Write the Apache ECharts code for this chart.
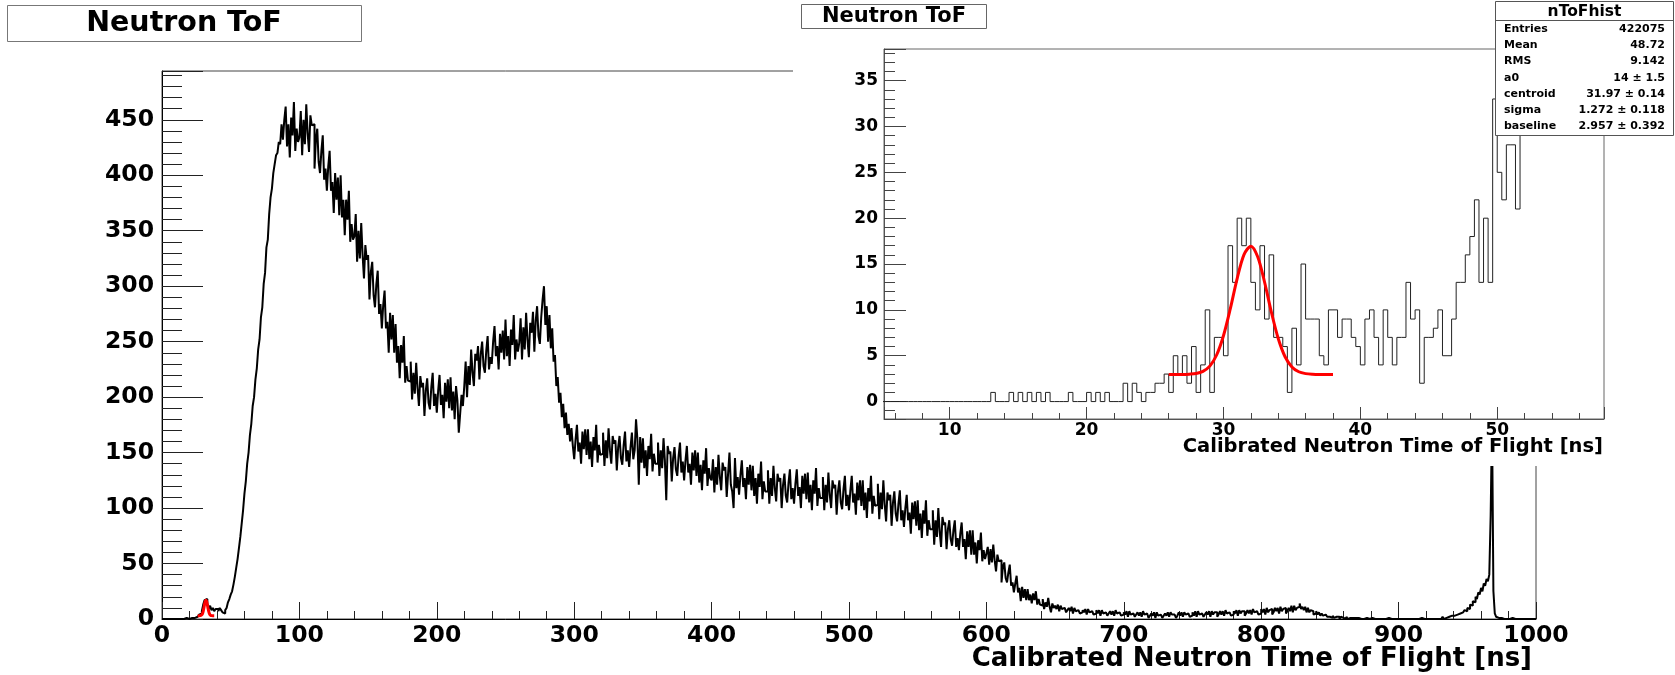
<!DOCTYPE html>
<html>
<head>
<meta charset="utf-8">
<title>Neutron ToF</title>
<script src="https://cdn.jsdelivr.net/npm/echarts@6/dist/echarts.min.js"></script>
<style>
  html, body { margin: 0; padding: 0; background: #fff; }
  #chart { width: 1675px; height: 675px; }
</style>
</head>
<body>
<div id="chart"></div>
<script>
// main histogram, 1 ns bins from 0 ns (heights as drawn)
var mainStart = 0;
var mainBinWidth = 1;
var mainCounts = [
  0,0,0,0,0,0,0,0,0,0,
  0,0,0,0,1,0,0,1,0,0,
  0,1,0,1,2,2,3,4,5,7,
  13,17,18,14,9,12,8,10,7,9,
  9,7,10,8,6,5,8,10,15,18,
  22,25,31,38,46,54,64,74,86,98,
  113,124,140,150,166,176,192,200,216,226,
  243,252,272,281,302,312,335,342,365,380,
  388,402,410,418,420,430,428,446,432,450,
  462,426,446,416,452,436,466,422,442,430,
  // 100
  434,458,418,450,428,464,438,421,454,445,
  446,406,432,442,412,402,422,436,396,406,
  386,408,422,386,394,366,402,378,398,364,
  400,362,378,346,378,360,386,340,356,342,
  345,365,322,350,325,357,328,307,337,324,
  328,288,313,322,292,281,302,314,275,284,
  262,283,296,262,268,240,276,252,274,240,
  266,231,246,217,247,231,255,213,228,215,
  214,232,198,222,203,231,208,192,219,209,
  213,183,206,217,195,189,209,222,192,203,
  // 200
  186,206,220,193,202,181,213,196,216,190,
  218,188,205,180,210,197,168,185,202,192,
  210,232,200,228,211,243,222,210,239,233,
  246,216,239,250,228,222,242,255,225,236,
  230,250,264,237,246,225,257,240,260,234,
  270,237,255,228,261,247,274,234,252,241,
  249,271,234,263,243,276,252,236,267,258,
  277,241,269,282,255,248,272,288,300,265,
  282,250,274,244,262,232,238,210,218,195,
  204,182,194,172,186,166,176,160,172,156,
  // 300
  144,162,175,151,159,140,169,153,171,148,
  171,144,160,137,164,152,175,141,157,148,
  149,168,138,161,145,172,152,140,165,158,
  161,134,155,165,145,139,157,169,142,152,
  137,155,168,144,152,180,162,121,164,141,
  163,136,152,129,156,144,167,133,149,140,
  140,159,129,152,136,163,143,107,156,149,
  151,124,145,155,135,129,147,159,132,142,
  125,143,156,132,140,121,150,134,152,129,
  150,123,139,116,143,131,154,120,136,127,
  // 400
  125,144,114,137,121,148,128,116,141,134,
  137,110,131,150,121,115,100,145,118,128,
  112,130,143,119,127,108,137,121,139,116,
  138,111,127,104,131,119,142,108,124,115,
  115,134,104,127,111,138,118,106,131,124,
  127,100,121,131,111,105,123,135,108,118,
  104,122,135,111,119,100,129,113,131,108,
  132,105,121,98,125,113,136,102,118,109,
  109,128,98,121,105,132,112,100,125,118,
  121,94,115,125,105,99,117,129,102,112,
  // 500
  98,116,129,105,113,94,123,107,125,102,
  125,98,114,91,118,106,129,95,111,102,
  103,122,90,114,99,125,103,88,114,107,
  112,84,105,115,95,88,104,116,89,98,
  83,100,112,89,96,77,105,90,106,84,
  107,80,95,73,98,86,107,75,89,81,
  81,98,67,89,74,100,79,65,92,85,
  87,63,81,89,72,66,80,89,65,73,
  62,77,87,65,72,54,79,65,80,58,
  80,58,69,50,71,62,78,52,62,54,
  // 600
  59,65,49,63,51,67,53,43,58,52,
  53,33,47,51,37,33,42,49,30,33,
  24,32,39,24,28,16,29,19,27,17,
  27,17,22,14,23,17,25,13,18,13,
  12,18,9,15,11,19,11,6,14,10,
  12,9,13,7,12,9,10,11,6,8,
  10,7,11,5,10,7,8,9,5,6,
  8,6,9,4,9,6,7,8,4,5,
  8,5,8,3,8,5,6,7,3,5,
  7,4,7,3,8,5,6,6,3,4,
  // 700
  6,4,7,2,7,4,5,6,2,4,
  6,3,6,2,7,4,5,5,1,3,
  5,3,6,1,6,3,4,5,1,3,
  5,3,6,2,6,4,4,5,1,3,
  6,3,6,2,6,4,5,6,2,3,
  6,3,7,2,7,4,5,6,2,4,
  6,4,7,2,7,4,6,6,2,4,
  7,4,7,3,8,5,6,7,3,4,
  7,5,8,3,8,5,7,7,3,5,
  8,5,8,4,9,6,7,8,4,5,
  // 800
  9,6,9,4,10,6,8,9,4,6,
  10,7,10,5,11,7,9,10,5,7,
  10,7,12,6,12,8,10,11,14,9,
  11,8,11,6,10,6,8,7,4,5,
  7,4,6,3,5,3,4,3,2,2,
  3,1,3,1,2,1,2,0,2,1,
  1,0,2,0,1,0,1,0,1,0,
  1,0,0,1,0,0,1,0,0,0,
  1,0,0,0,0,1,0,0,0,0,
  0,0,1,0,0,0,0,0,0,0,
  // 900
  0,0,0,1,0,0,0,0,0,0,
  0,0,0,0,0,0,1,0,0,0,
  0,0,0,0,0,1,0,0,0,1,
  0,1,2,0,1,1,2,1,3,2,
  3,2,4,3,5,4,6,5,8,7,
  10,9,13,12,16,15,20,18,24,22,
  28,25,32,30,36,34,40,93,180,25,
  5,2,1,0,1,0,0,1,0,0,
  0,0,1,0,0,0,0,0,0,0,
  0,0,0,0,0,0,0,0,0,0
];

// inset: same spectrum zoomed, 1/3 ns bins from 5 ns
var insetStart = 5;
var insetBinWidth = 1 / 3;
var insetCounts = [
  0,0,0, 0,0,0, 0,0,0, 0,0,0, 0,0,0, 0,0,0, 0,0,0, 0,0,0,
  1,0,0,    // 13
  0,1,0,
  1,0,1,
  0,1,0,
  1,0,0,
  0,0,1,
  0,0,0,
  1,0,1,    // 20
  0,1,0,
  0,0,2,
  0,2,1,
  0,1,1,
  2,2,3,    // 25
  1,5,3,
  5,2,6,
  1,4,10,
  1,7,7,
  5,17,13,  // 30
  20,17,20,
  13,10,17,
  9,16,7,
  7,6,1,
  8,4,15,   // 35
  9,9,9,
  5,4,10,
  10,7,9,
  9,7,6,
  4,9,10,   // 40
  7,4,10,
  7,4,7,
  7,13,9,
  10,2,7,
  7,8,10,   // 45
  5,5,9,
  13,13,16,
  18,22,13,
  20,13,33,
  25,22,28, // 50
  28,21,40,
  44,46,48,
  50,52,55,
  58,60,62,
  64,68,70, // 55
  74,78,82,
  86,90,94
];

// red fit curve (gaussian + baseline)
var fitTimes = [26,26.5,27,27.5,28,28.5,29,29.5,30,30.5,31,31.5,32,32.5,33,33.5,34,34.5,35,35.5,36,36.5,37,37.5,38];
var fitCounts = [2.96,2.96,2.96,2.99,3.06,3.30,3.87,5.08,7.18,10.13,13.42,16.03,16.95,15.79,13.04,9.75,6.88,4.89,3.78,3.25,3.05,2.98,2.96,2.96,2.96];

var mainXRange = [0, 1000];
var mainYRange = [0, 494];
var insetXRange = [5.2, 57.8];
var insetYRange = [-1.9, 38.45];

var statsTitle = 'nToFhist';
var statsLabels = ['Entries', 'Mean', 'RMS', 'a0', 'centroid', 'sigma', 'baseline'];
var statsValues = ['422075', '48.72', '9.142', '14 \u00b1 1.5', '31.97 \u00b1 0.14', '1.272 \u00b1 0.118', '2.957 \u00b1 0.392'];

var FONT = '"DejaVu Sans", sans-serif';

function histSteps(start, width, counts) {
  var pts = counts.map(function (c, i) { return [start + i * width, c]; });
  pts.push([start + counts.length * width, counts[counts.length - 1]]);
  return pts;
}
function pairs(xs, ys) {
  return xs.map(function (x, i) { return [x, ys[i]]; });
}
// plain numbers, no thousands separator (1000 not 1,000)
function plain(v) { return String(v); }

var statsRowY = [29, 45, 61, 78, 94, 110, 126.5];
var statsTexts = [];
statsLabels.forEach(function (lab, i) {
  statsTexts.push({ type: 'text', x: 1504, y: statsRowY[i], z: 32,
    style: { text: lab, font: 'bold 11px ' + FONT, fill: '#000', align: 'left', verticalAlign: 'middle' } });
  statsTexts.push({ type: 'text', x: 1665, y: statsRowY[i], z: 32,
    style: { text: statsValues[i], font: 'bold 11px ' + FONT, fill: '#000', align: 'right', verticalAlign: 'middle' } });
});

var chart = echarts.init(document.getElementById('chart'));
var option = {
  animation: false,
  backgroundColor: '#fff',
  grid: [
    { left: 162, top: 71, width: 1374, height: 548, show: true, borderColor: '#444', borderWidth: 1, z: 0 },
    { left: 884, top: 49, width: 720, height: 370, show: true, borderColor: '#666', borderWidth: 1, backgroundColor: '#fff', z: 10 }
  ],
  xAxis: [
    {
      type: 'value', gridIndex: 0, min: mainXRange[0], max: mainXRange[1], interval: 100,
      axisLine: { onZero: false, lineStyle: { color: '#000', width: 1 } },
      axisTick: { inside: true, length: 17, lineStyle: { color: '#222' } },
      minorTick: { show: true, splitNumber: 5, length: 8, lineStyle: { color: '#222' } },
      splitLine: { show: false },
      axisLabel: { margin: 5, formatter: plain, color: '#000', fontFamily: FONT, fontWeight: 'bold', fontSize: 23.5 }
    },
    {
      type: 'value', gridIndex: 1, min: insetXRange[0], max: insetXRange[1], splitNumber: 5, z: 10,
      axisLine: { onZero: false, lineStyle: { color: '#555', width: 1 } },
      axisTick: { inside: true, length: 12, lineStyle: { color: '#444' } },
      minorTick: { show: true, splitNumber: 5, length: 6, lineStyle: { color: '#444' } },
      splitLine: { show: false },
      axisLabel: { margin: 3, formatter: plain, showMinLabel: false, showMaxLabel: false, color: '#000', fontFamily: FONT, fontWeight: 'bold', fontSize: 17 }
    }
  ],
  yAxis: [
    {
      type: 'value', gridIndex: 0, min: mainYRange[0], max: mainYRange[1], interval: 50,
      axisLine: { onZero: false, lineStyle: { color: '#000', width: 1 } },
      axisTick: { inside: true, length: 41, lineStyle: { color: '#222' } },
      minorTick: { show: true, splitNumber: 5, length: 20, lineStyle: { color: '#222' } },
      splitLine: { show: false },
      axisLabel: { margin: 8, formatter: plain, showMaxLabel: false, color: '#000', fontFamily: FONT, fontWeight: 'bold', fontSize: 23.5 }
    },
    {
      type: 'value', gridIndex: 1, min: insetYRange[0], max: insetYRange[1], splitNumber: 8, z: 10,
      axisLine: { onZero: false, lineStyle: { color: '#555', width: 1 } },
      axisTick: { inside: true, length: 22, lineStyle: { color: '#444' } },
      minorTick: { show: true, splitNumber: 5, length: 11, lineStyle: { color: '#444' } },
      splitLine: { show: false },
      axisLabel: { margin: 6, formatter: plain, showMinLabel: false, showMaxLabel: false, color: '#000', fontFamily: FONT, fontWeight: 'bold', fontSize: 17 }
    }
  ],
  series: [
    {
      type: 'line', xAxisIndex: 0, yAxisIndex: 0, z: 2, silent: true,
      data: histSteps(mainStart, mainBinWidth, mainCounts),
      step: 'end', symbol: 'none', lineStyle: { color: '#000', width: 2 }
    },
    {
      type: 'line', xAxisIndex: 0, yAxisIndex: 0, z: 3, silent: true,
      data: pairs(fitTimes, fitCounts),
      smooth: 0.3, symbol: 'none', lineStyle: { color: '#ff0000', width: 3 }
    },
    {
      type: 'line', xAxisIndex: 1, yAxisIndex: 1, z: 12, silent: true,
      data: histSteps(insetStart, insetBinWidth, insetCounts),
      step: 'end', symbol: 'none', lineStyle: { color: '#222', width: 1 }
    },
    {
      type: 'line', xAxisIndex: 1, yAxisIndex: 1, z: 13, silent: true,
      data: pairs(fitTimes, fitCounts),
      smooth: 0.3, symbol: 'none', lineStyle: { color: '#ff0000', width: 3 }
    }
  ],
  graphic: [
    // white pad of the inset, hides the top-right of the main frame
    { type: 'rect', z: 5, silent: true, shape: { x: 793, y: 0, width: 882, height: 466 }, style: { fill: '#fff' } },
    // main title box
    { type: 'rect', z: 30, shape: { x: 7.5, y: 5.5, width: 354, height: 36 }, style: { fill: '#fff', stroke: '#777', lineWidth: 1 } },
    { type: 'text', z: 31, x: 184, y: 24, style: { text: 'Neutron ToF', font: 'bold 28.5px ' + FONT, fill: '#000', align: 'center', verticalAlign: 'middle' } },
    // inset title box
    { type: 'rect', z: 30, shape: { x: 801.5, y: 4.5, width: 185, height: 24 }, style: { fill: '#fff', stroke: '#666', lineWidth: 1 } },
    { type: 'text', z: 31, x: 894, y: 16.5, style: { text: 'Neutron ToF', font: 'bold 21px ' + FONT, fill: '#000', align: 'center', verticalAlign: 'middle' } },
    // axis titles
    { type: 'text', z: 31, x: 1532, y: 659, style: { text: 'Calibrated Neutron Time of Flight [ns]', font: 'bold 26px ' + FONT, fill: '#000', align: 'right', verticalAlign: 'middle' } },
    { type: 'text', z: 31, x: 1603, y: 447, style: { text: 'Calibrated Neutron Time of Flight [ns]', font: 'bold 19.5px ' + FONT, fill: '#000', align: 'right', verticalAlign: 'middle' } },
    // stats box
    { type: 'rect', z: 30, shape: { x: 1495.5, y: 1.5, width: 178, height: 134 }, style: { fill: '#fff', stroke: '#555', lineWidth: 1 } },
    { type: 'line', z: 31, shape: { x1: 1495.5, y1: 20.5, x2: 1673.5, y2: 20.5 }, style: { stroke: '#555', lineWidth: 1 } },
    { type: 'text', z: 32, x: 1584.5, y: 11.5, style: { text: statsTitle, font: 'bold 15.5px ' + FONT, fill: '#000', align: 'center', verticalAlign: 'middle' } }
  ].concat(statsTexts)
};
chart.setOption(option);
</script>
</body>
</html>
